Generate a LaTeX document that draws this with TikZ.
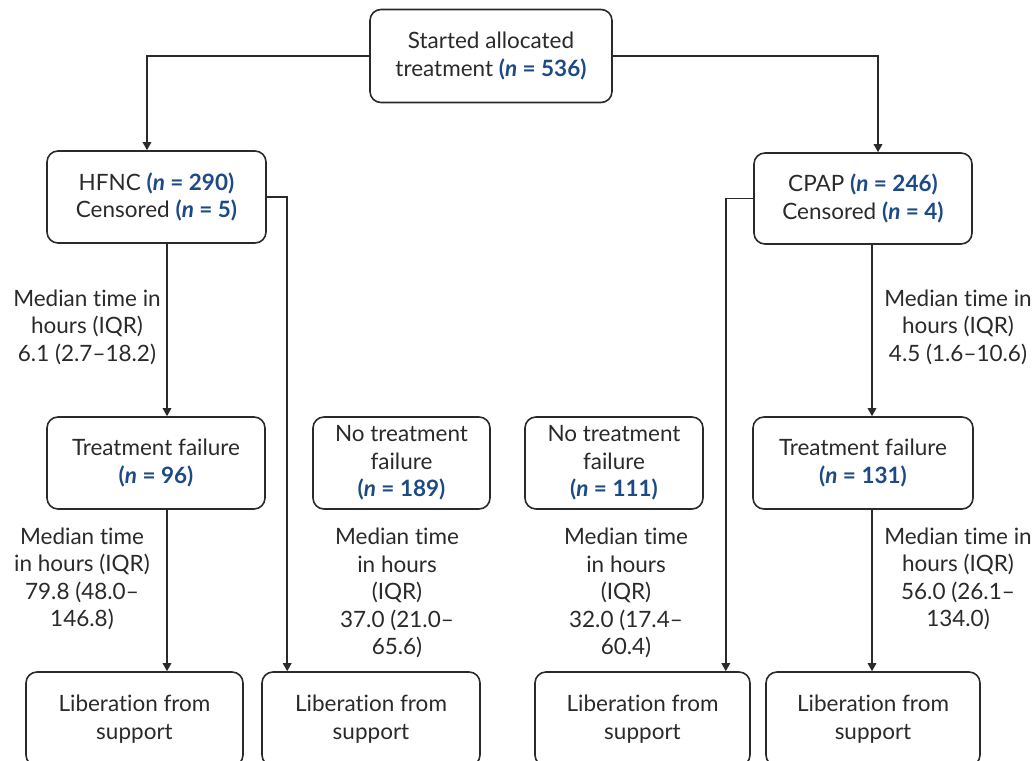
\documentclass[tikz,border=0pt]{standalone}
\usepackage{fontspec}
\setmainfont{Lato}[Ligatures=NoCommon]
\usetikzlibrary{arrows.meta,positioning}
\definecolor{nblue}{HTML}{1D4A85}
\definecolor{inkgray}{HTML}{2A2A2A}
\newcommand{\nval}[1]{\textcolor{nblue}{\bfseries(\textit{n}~=~#1)}}

\tikzset{
  flowbox/.style={draw=inkgray, line width=1.6pt, rounded corners=11pt, align=center,
    inner sep=0pt, text=inkgray, font=\fontsize{22.5}{27.5}\selectfont},
  medlabel/.style={align=center, inner sep=0pt, text=inkgray, font=\fontsize{22.5}{27.5}\selectfont},
  arr/.style={draw=inkgray, line width=1.5pt, -{Triangle[length=8pt,width=8.5pt]}},
}

\begin{document}
\begin{tikzpicture}[x=1pt, y=-1pt]
  \clip (0,0) rectangle (1035,760);
  \useasboundingbox (0,0) rectangle (1035,760);

  % top of the tree
  \node[flowbox, minimum width=242pt, minimum height=93pt] (start) at (491,56)
    {Started allocated\\treatment \nval{536}};

  % the two arms
  \node[flowbox, minimum width=219pt, minimum height=92pt] (hfnc) at (156.5,197)
    {HFNC \nval{290}\\Censored \nval{5}};
  \node[flowbox, minimum width=218pt, minimum height=91pt] (cpap) at (863,198.5)
    {CPAP \nval{246}\\Censored \nval{4}};

  % failure / no failure
  \node[flowbox, minimum width=218pt, minimum height=92pt] (tfl) at (156,463)
    {Treatment failure\\\nval{96}};
  \node[flowbox, minimum width=177pt, minimum height=92pt] (ntfl) at (401.5,463)
    {No treatment\\failure\\\nval{189}};
  \node[flowbox, minimum width=178pt, minimum height=92pt] (ntfr) at (614,463)
    {No treatment\\failure\\\nval{111}};
  \node[flowbox, minimum width=220pt, minimum height=92pt] (tfr) at (863,463)
    {Treatment failure\\\nval{131}};

  % liberation
  \node[flowbox, minimum width=217pt, minimum height=94pt] (lib1) at (134.5,719) {Liberation from\\support};
  \node[flowbox, minimum width=218pt, minimum height=94pt] (lib2) at (371,719) {Liberation from\\support};
  \node[flowbox, minimum width=215pt, minimum height=94pt] (lib3) at (642.5,719) {Liberation from\\support};
  \node[flowbox, minimum width=214pt, minimum height=94pt] (lib4) at (873,719) {Liberation from\\support};

  % median times
  \node[medlabel] (med1) at (87,327) {Median time in\\hours (IQR)\\6.1 (2.7--18.2)};
  \node[medlabel] (med2) at (958,327) {Median time in\\hours (IQR)\\4.5 (1.6--10.6)};
  \node[medlabel] (med3) at (82,579) {Median time\\in hours (IQR)\\79.8 (48.0--\\146.8)};
  \node[medlabel] (med4) at (397,593) {Median time\\in hours\\(IQR)\\37.0 (21.0--\\65.6)};
  \node[medlabel] (med5) at (626,593) {Median time\\in hours\\(IQR)\\32.0 (17.4--\\60.4)};
  \node[medlabel] (med6) at (958,579) {Median time in\\hours (IQR)\\56.0 (26.1--\\134.0)};

  % connectors
  \draw[arr] (start.west) -| ([xshift=-9.5pt]hfnc.north);
  \draw[arr] (start.east) -| ([xshift=15pt]cpap.north);
  \draw[arr] ([xshift=10.5pt]hfnc.south) -- ([xshift=11pt]tfl.north);
  \draw[arr] ([xshift=9pt]cpap.south) -- ([xshift=9pt]tfr.north);
  \draw[arr] (hfnc.east) -| ([xshift=26pt]lib2.north west);
  \draw[arr] (cpap.west) -| ([xshift=-25pt]lib3.north east);
  \draw[arr] ([xshift=11pt]tfl.south) -- ([xshift=32.5pt]lib1.north);
  \draw[arr] ([xshift=9pt]tfr.south) -- ([xshift=-1pt]lib4.north);
\end{tikzpicture}
\end{document}
